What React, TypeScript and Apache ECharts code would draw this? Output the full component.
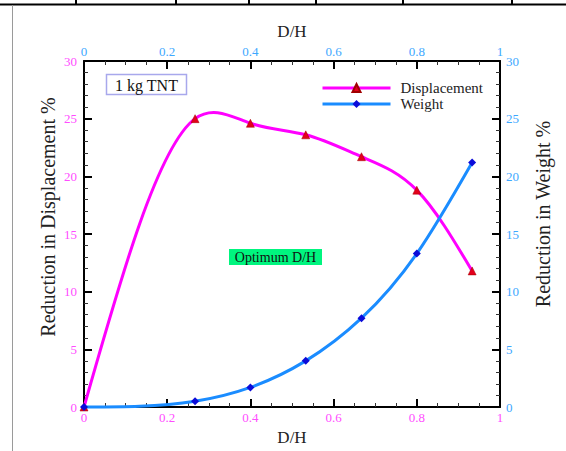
import React, { useEffect, useRef } from "react";
import * as echarts from "echarts";

// D/H ratios at which the reductions were computed
const dhValues = [0, 0.267, 0.4, 0.533, 0.667, 0.8, 0.933];
// Reduction in displacement (%) for each D/H
const displacementReduction = [0, 25.0, 24.6, 23.6, 21.7, 18.8, 11.8];
// Reduction in weight (%) for each D/H
const weightReduction = [0, 0.5, 1.7, 4.0, 7.7, 13.3, 21.2];

const xRange = [0, 1];
const xStep = 0.2;
const yRange = [0, 30];
const yStep = 5;

const seriesNames = ["Displacement", "Weight"];
const chargeLabel = "1 kg TNT";
const optimumLabel = "Optimum D/H";
const xTitle = "D/H";
const leftTitle = "Reduction in Displacement %";
const rightTitle = "Reduction in Weight %";

// vertical dividers of the frame strip across the top of the page
const frameDividers = [76, 176, 249, 316, 403, 512];

const SERIF = "'Liberation Serif', 'Times New Roman', serif";
const MAGENTA_TEXT = "#ff4dff";
const BLUE_TEXT = "#3ea8ff";
const DISP_LINE = "#ff00ff";
const WEIGHT_LINE = "#1a8cff";

function pairs(xs: number[], ys: number[]) {
  return xs.map((x, i) => [x, ys[i]]);
}

// Slopes of a natural cubic spline y(x) through the given points.
function splineSlopes(xs: number[], ys: number[]): number[] {
  const n = xs.length;
  const h: number[] = [];
  const d: number[] = [];
  for (let i = 0; i < n - 1; i++) {
    h.push(xs[i + 1] - xs[i]);
    d.push((ys[i + 1] - ys[i]) / h[i]);
  }
  const M = new Array(n).fill(0);
  if (n > 2) {
    const a: number[] = [];
    const b: number[] = [];
    const c: number[] = [];
    const r: number[] = [];
    for (let i = 1; i < n - 1; i++) {
      a.push(h[i - 1]);
      b.push(2 * (h[i - 1] + h[i]));
      c.push(h[i]);
      r.push(6 * (d[i] - d[i - 1]));
    }
    const m = b.length;
    for (let i = 1; i < m; i++) {
      const w = a[i] / b[i - 1];
      b[i] -= w * c[i - 1];
      r[i] -= w * r[i - 1];
    }
    const sol = new Array(m).fill(0);
    sol[m - 1] = r[m - 1] / b[m - 1];
    for (let i = m - 2; i >= 0; i--) sol[i] = (r[i] - c[i] * sol[i + 1]) / b[i];
    for (let i = 0; i < m; i++) M[i + 1] = sol[i];
  }
  const slopes: number[] = [];
  for (let i = 0; i < n - 1; i++) slopes.push(d[i] - (h[i] * (2 * M[i] + M[i + 1])) / 6);
  slopes.push(d[n - 2] + (h[n - 2] * (M[n - 2] + 2 * M[n - 1])) / 6);
  return slopes;
}

// Custom series drawing the spline through the points, one Bezier per interval.
function splineSeries(xs: number[], ys: number[], yAxisIndex: number, color: string) {
  const slopes = splineSlopes(xs, ys);
  return {
    type: "custom",
    name: "",
    coordinateSystem: "cartesian2d",
    xAxisIndex: 0,
    yAxisIndex,
    silent: true,
    z: 2,
    data: pairs(xs, ys),
    renderItem: (params: any, api: any) => {
      const i = params.dataIndex;
      if (i >= xs.length - 1) return null;
      const hx = (xs[i + 1] - xs[i]) / 3;
      const p0 = api.coord([xs[i], ys[i]]);
      const p1 = api.coord([xs[i + 1], ys[i + 1]]);
      const c0 = api.coord([xs[i] + hx, ys[i] + slopes[i] * hx]);
      const c1 = api.coord([xs[i + 1] - hx, ys[i + 1] - slopes[i + 1] * hx]);
      return {
        type: "bezierCurve",
        shape: {
          x1: p0[0],
          y1: p0[1],
          x2: p1[0],
          y2: p1[1],
          cpx1: c0[0],
          cpy1: c0[1],
          cpx2: c1[0],
          cpy2: c1[1],
        },
        style: { stroke: color, lineWidth: 3, fill: null },
      };
    },
  };
}

function axisStyle(labelColor: string, minorSplit: number, labelMargin: number) {
  return {
    axisLine: { show: true, onZero: false, lineStyle: { color: "#000", width: 2 } },
    axisTick: { show: true, inside: true, length: 8, lineStyle: { color: "#000", width: 2 } },
    minorTick: {
      show: true,
      splitNumber: minorSplit,
      length: 4,
      lineStyle: { color: "#333", width: 1 },
    },
    splitLine: { show: false },
    minorSplitLine: { show: false },
    axisLabel: {
      color: labelColor,
      fontFamily: SERIF,
      fontSize: 13,
      margin: labelMargin,
    },
  };
}

export default function App() {
  const ref = useRef<HTMLDivElement>(null);

  useEffect(() => {
    if (!ref.current) return;
    const chart = echarts.init(ref.current, null, { renderer: "svg" });

    const graphic: any[] = [
      // frame strip at the top of the page
      {
        type: "line",
        shape: { x1: 0, y1: 4.5, x2: 566, y2: 4.5 },
        style: { stroke: "#000", lineWidth: 2 },
      },
      ...frameDividers.map((x) => ({
        type: "line",
        shape: { x1: x, y1: 0, x2: x, y2: 4.5 },
        style: { stroke: "#000", lineWidth: 2 },
      })),
      {
        type: "line",
        shape: { x1: 12.5, y1: 5, x2: 12.5, y2: 451 },
        style: { stroke: "#9a9a9a", lineWidth: 1 },
      },
      // charge label box
      {
        type: "rect",
        shape: { x: 106.5, y: 74.5, width: 80, height: 20 },
        style: { fill: "#fff", stroke: "#a8a8ec", lineWidth: 1.5 },
        z: 10,
      },
      {
        type: "text",
        x: 146.5,
        y: 85,
        style: {
          text: chargeLabel,
          font: `16px ${SERIF}`,
          fill: "#111",
          textAlign: "center",
          textVerticalAlign: "middle",
        },
        z: 11,
      },
      // optimum marker label
      {
        type: "rect",
        shape: { x: 229, y: 249, width: 93, height: 16 },
        style: { fill: "#00f57f" },
        z: 10,
      },
      {
        type: "text",
        x: 275.5,
        y: 257.5,
        style: {
          text: optimumLabel,
          font: `14px ${SERIF}`,
          fill: "#111",
          textAlign: "center",
          textVerticalAlign: "middle",
        },
        z: 11,
      },
      // y axis titles
      {
        type: "text",
        x: 48,
        y: 217,
        rotation: Math.PI / 2,
        style: {
          text: leftTitle,
          font: `20px ${SERIF}`,
          fill: "#222",
          textAlign: "center",
          textVerticalAlign: "middle",
        },
      },
      {
        type: "text",
        x: 543,
        y: 214,
        rotation: Math.PI / 2,
        style: {
          text: rightTitle,
          font: `20px ${SERIF}`,
          fill: "#222",
          textAlign: "center",
          textVerticalAlign: "middle",
        },
      },
    ];

    chart.setOption({
      animation: false,
      backgroundColor: "#fff",
      grid: { left: 84, top: 61, width: 416, height: 346, containLabel: false },
      legend: {
        orient: "vertical",
        left: 321,
        top: 80.5,
        padding: 0,
        itemWidth: 68,
        itemHeight: 10,
        itemGap: 1,
        data: seriesNames,
        lineStyle: { width: 3 },
        textStyle: {
          fontFamily: SERIF,
          fontSize: 15,
          color: "#222",
          padding: [0, 0, 0, 5],
        },
      },
      xAxis: [
        {
          type: "value",
          position: "bottom",
          min: xRange[0],
          max: xRange[1],
          interval: xStep,
          name: xTitle,
          nameLocation: "middle",
          nameGap: 16,
          nameTextStyle: { fontFamily: SERIF, fontSize: 17, color: "#222" },
          ...axisStyle(MAGENTA_TEXT, 4, 4),
        },
        {
          type: "value",
          position: "top",
          min: xRange[0],
          max: xRange[1],
          interval: xStep,
          name: xTitle,
          nameLocation: "middle",
          nameGap: 15,
          nameTextStyle: { fontFamily: SERIF, fontSize: 17, color: "#222" },
          ...axisStyle(BLUE_TEXT, 4, 3),
        },
      ],
      yAxis: [
        {
          type: "value",
          position: "left",
          min: yRange[0],
          max: yRange[1],
          interval: yStep,
          ...axisStyle(MAGENTA_TEXT, 5, 7),
        },
        {
          type: "value",
          position: "right",
          min: yRange[0],
          max: yRange[1],
          interval: yStep,
          ...axisStyle(BLUE_TEXT, 5, 6),
        },
      ],
      series: [
        splineSeries(dhValues, displacementReduction, 0, DISP_LINE),
        splineSeries(dhValues, weightReduction, 1, WEIGHT_LINE),
        {
          name: seriesNames[0],
          type: "line",
          xAxisIndex: 0,
          yAxisIndex: 0,
          data: pairs(dhValues, displacementReduction),
          symbol: "triangle",
          symbolSize: 8,
          lineStyle: { color: DISP_LINE, width: 0 },
          itemStyle: { color: "#e3001b", borderColor: "#a00000", borderWidth: 0.5 },
          z: 3,
        },
        {
          name: seriesNames[1],
          type: "line",
          xAxisIndex: 0,
          yAxisIndex: 1,
          data: pairs(dhValues, weightReduction),
          symbol: "diamond",
          symbolSize: 8,
          lineStyle: { color: WEIGHT_LINE, width: 0 },
          itemStyle: { color: "#0b0bd9" },
          z: 4,
        },
      ],
      graphic,
    });

    return () => chart.dispose();
  }, []);

  return (
    <div
      ref={ref}
      style={{ position: "fixed", left: 0, top: 0, width: 566, height: 451, background: "#fff" }}
    />
  );
}
